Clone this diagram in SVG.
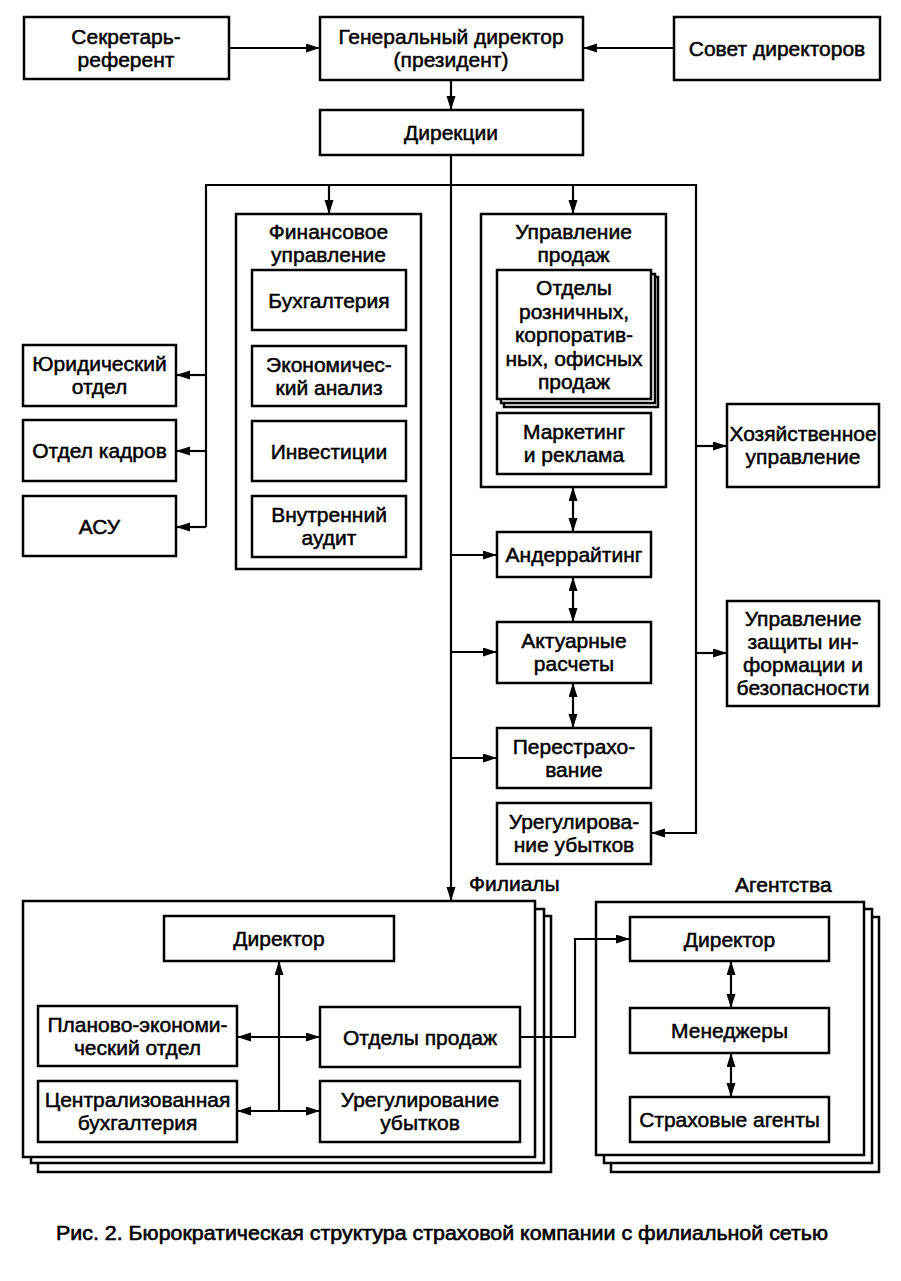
<svg xmlns="http://www.w3.org/2000/svg" width="901" height="1281" viewBox="0 0 901 1281">
<style>
.b{fill:#fff;stroke:#000;stroke-width:2.5}
.c{fill:none;stroke:#000;stroke-width:2.2}
text{font-family:"Liberation Sans",Arial,sans-serif;font-size:21px;fill:#000;stroke:#000;stroke-width:0.5;text-anchor:middle}
.l{text-anchor:start}
.cap{font-size:20px;stroke-width:0.6}
</style>
<defs>
<marker id="a" markerUnits="userSpaceOnUse" markerWidth="15" markerHeight="10" refX="14" refY="4.5" orient="auto-start-reverse"><path d="M0,0 L14,4.5 L0,9 z" fill="#000"/></marker>
</defs>
<rect width="901" height="1281" fill="#fff"/>

<g id="connectors">
<line class="c" x1="229" y1="48" x2="320" y2="48" marker-end="url(#a)"/>
<line class="c" x1="674" y1="48" x2="583" y2="48" marker-end="url(#a)"/>
<line class="c" x1="451" y1="80" x2="451" y2="110" marker-end="url(#a)"/>
<line class="c" x1="451" y1="155" x2="451" y2="901" marker-end="url(#a)"/>
<polyline class="c" points="206,527 206,185 696,185 696,833"/>
<line class="c" x1="329" y1="185" x2="329" y2="214" marker-end="url(#a)"/>
<line class="c" x1="573" y1="185" x2="573" y2="214" marker-end="url(#a)"/>
<line class="c" x1="206" y1="375" x2="176" y2="375" marker-end="url(#a)"/>
<line class="c" x1="206" y1="451" x2="176" y2="451" marker-end="url(#a)"/>
<line class="c" x1="206" y1="527" x2="176" y2="527" marker-end="url(#a)"/>
<line class="c" x1="696" y1="446" x2="727" y2="446" marker-end="url(#a)"/>
<line class="c" x1="696" y1="653" x2="727" y2="653" marker-end="url(#a)"/>
<line class="c" x1="697" y1="833" x2="651" y2="833" marker-end="url(#a)"/>
<line class="c" x1="451" y1="555" x2="497" y2="555" marker-end="url(#a)"/>
<line class="c" x1="451" y1="652" x2="497" y2="652" marker-end="url(#a)"/>
<line class="c" x1="451" y1="758" x2="497" y2="758" marker-end="url(#a)"/>
<line class="c" x1="573" y1="487" x2="573" y2="532" marker-start="url(#a)" marker-end="url(#a)"/>
<line class="c" x1="573" y1="577" x2="573" y2="622" marker-start="url(#a)" marker-end="url(#a)"/>
<line class="c" x1="573" y1="683" x2="573" y2="728" marker-start="url(#a)" marker-end="url(#a)"/>
</g>

<g id="sekretar"><rect class="b" x="24" y="17" width="205" height="62"/><text x="126" y="43.5">Секретарь-</text><text x="126" y="66.5">референт</text></g>
<g id="gendir"><rect class="b" x="320" y="17" width="263" height="63"/><text x="451" y="43.5">Генеральный директор</text><text x="451" y="66.5">(президент)</text></g>
<g id="sovet"><rect class="b" x="674" y="17" width="206" height="63"/><text x="777" y="55.5">Совет директоров</text></g>
<g id="direkcii"><rect class="b" x="320" y="110" width="263" height="45"/><text x="451" y="140">Дирекции</text></g>

<g id="finupr"><rect class="b" x="236" y="214" width="185" height="355"/><text x="328.5" y="239">Финансовое</text><text x="328.5" y="261.5">управление</text>
<rect class="b" x="252" y="270" width="154" height="60"/><text x="329" y="307.5">Бухгалтерия</text>
<rect class="b" x="252" y="346" width="154" height="60"/><text x="329" y="371.5">Экономичес-</text><text x="329" y="394.5">кий анализ</text>
<rect class="b" x="252" y="421" width="154" height="60"/><text x="329" y="458.5">Инвестиции</text>
<rect class="b" x="252" y="496" width="154" height="61"/><text x="329" y="522">Внутренний</text><text x="329" y="545">аудит</text></g>

<g id="yurid"><rect class="b" x="23" y="345" width="153" height="61"/><text x="99.5" y="371">Юридический</text><text x="99.5" y="394">отдел</text></g>
<g id="kadry"><rect class="b" x="23" y="420" width="153" height="61"/><text x="99.5" y="458">Отдел кадров</text></g>
<g id="asu"><rect class="b" x="23" y="496" width="153" height="60"/><text x="99.5" y="533.5">АСУ</text></g>

<g id="uprprod"><rect class="b" x="481" y="214" width="185" height="273"/><text x="573.5" y="239">Управление</text><text x="573.5" y="261.5">продаж</text>
<rect class="b" x="504" y="277" width="154" height="130" stroke-width="2"/>
<rect class="b" x="501" y="274" width="154" height="129" stroke-width="2"/>
<rect class="b" x="497" y="270" width="154" height="129"/>
<text x="574" y="295">Отделы</text><text x="574" y="318.5">розничных,</text><text x="574" y="342">корпоратив-</text><text x="574" y="365.5">ных, офисных</text><text x="574" y="389">продаж</text>
<rect class="b" x="497" y="413" width="154" height="61"/><text x="574" y="439">Маркетинг</text><text x="574" y="462">и реклама</text></g>

<g id="hozupr"><rect class="b" x="727" y="404" width="152" height="83"/><text x="803" y="441">Хозяйственное</text><text x="803" y="464">управление</text></g>
<g id="zashita"><rect class="b" x="727" y="601" width="152" height="105"/><text x="803" y="626">Управление</text><text x="803" y="649">защиты ин-</text><text x="803" y="672">формации и</text><text x="803" y="695">безопасности</text></g>

<g id="ander"><rect class="b" x="497" y="532" width="154" height="45"/><text x="574" y="562">Андеррайтинг</text></g>
<g id="aktuar"><rect class="b" x="497" y="622" width="154" height="61"/><text x="574" y="648">Актуарные</text><text x="574" y="671">расчеты</text></g>
<g id="perestrah"><rect class="b" x="497" y="728" width="154" height="60"/><text x="574" y="753.5">Перестрахо-</text><text x="574" y="776.5">вание</text></g>
<g id="uregul"><rect class="b" x="497" y="803" width="154" height="61"/><text x="574" y="829">Урегулирова-</text><text x="574" y="852">ние убытков</text></g>

<g id="filialy">
<text class="l" x="469" y="891">Филиалы</text>
<rect class="b" x="38" y="916" width="513" height="256" stroke-width="2"/>
<rect class="b" x="31" y="909" width="513" height="254" stroke-width="2"/>
<rect class="b" x="23" y="901" width="512" height="256"/>
<rect class="b" x="164" y="916" width="230" height="45"/><text x="279" y="946">Директор</text>
<rect class="b" x="38" y="1006" width="199" height="60"/><text x="137.5" y="1031.5">Планово-экономи-</text><text x="137.5" y="1054.5">ческий отдел</text>
<rect class="b" x="320" y="1007" width="200" height="60"/><text x="420" y="1044.5">Отделы продаж</text>
<rect class="b" x="38" y="1081" width="199" height="61"/><text x="137.5" y="1107">Централизованная</text><text x="137.5" y="1130">бухгалтерия</text>
<rect class="b" x="320" y="1081" width="200" height="61"/><text x="420" y="1107">Урегулирование</text><text x="420" y="1130">убытков</text>
</g>

<g id="agentstva">
<text class="l" x="735" y="891.5">Агентства</text>
<rect class="b" x="611" y="917" width="268" height="255" stroke-width="2"/>
<rect class="b" x="604" y="909" width="268" height="254" stroke-width="2"/>
<rect class="b" x="596" y="902" width="268" height="253"/>
<rect class="b" x="630" y="917" width="199" height="44"/><text x="729.5" y="946.5">Директор</text>
<rect class="b" x="630" y="1008" width="199" height="45"/><text x="729.5" y="1038">Менеджеры</text>
<rect class="b" x="630" y="1097" width="199" height="45"/><text x="729.5" y="1127">Страховые агенты</text>
</g>

<g id="connectors2">
<line class="c" x1="279" y1="1111" x2="279" y2="961" marker-end="url(#a)"/>
<line class="c" x1="237" y1="1037" x2="320" y2="1037" marker-start="url(#a)" marker-end="url(#a)"/>
<line class="c" x1="237" y1="1111" x2="320" y2="1111" marker-start="url(#a)" marker-end="url(#a)"/>
<polyline class="c" points="520,1037 575,1037 575,939 630,939" marker-end="url(#a)"/>
<line class="c" x1="731" y1="961" x2="731" y2="1008" marker-start="url(#a)" marker-end="url(#a)"/>
<line class="c" x1="731" y1="1053" x2="731" y2="1097" marker-start="url(#a)" marker-end="url(#a)"/>
</g>

<text class="l cap" x="56" y="1240" textLength="772" lengthAdjust="spacingAndGlyphs">Рис. 2. Бюрократическая структура страховой компании с филиальной сетью</text>
</svg>
